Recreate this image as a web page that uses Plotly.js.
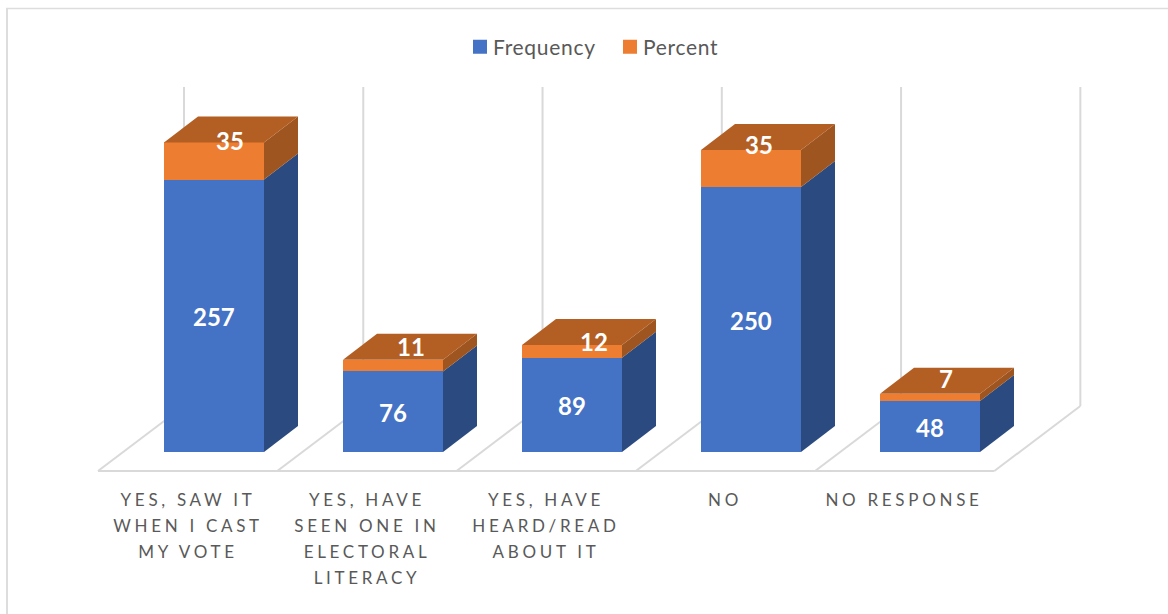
<!DOCTYPE html>
<html>
<head>
<meta charset="utf-8">
<script src="https://cdn.plot.ly/plotly-3.0.1.min.js"></script>
<style>
  html, body { margin: 0; padding: 0; background: #fff; }
  #chart { position: absolute; left: 0; top: 0; width: 1168px; height: 614px; }
  #chart .xtick text { letter-spacing: 3.7px; }
  #chart .legendtext { letter-spacing: 0.7px; }
</style>
</head>
<body>
<div id="chart"></div>
<script>
// Survey responses, stacked frequency and percent
const categories = [
  "YES, SAW IT<br>WHEN I CAST<br>MY VOTE",
  "YES, HAVE<br>SEEN ONE IN<br>ELECTORAL<br>LITERACY",
  "YES, HAVE<br>HEARD/READ<br>ABOUT IT",
  "NO",
  "NO RESPONSE"
];
const frequency = [257, 76, 89, 250, 48];
const percent = [35, 11, 12, 35, 7];

// Plot box in pixels and the scales it implies
const W = 1168, H = 614;
const box = { left: 60, right: 1130, top: 70, bottom: 488 };
const pxPerCat = 179, pxPerUnit = 1.06;
const firstBarPx = 214, baselinePx = 452;

// Oblique projection of the pseudo-3D look, converted to axis units
const barHalf = 50 / pxPerCat;
const depthX = 34 / pxPerCat, depthY = 26 / pxPerUnit;
const floorX = 86 / pxPerCat, floorY = 65 / pxPerUnit;
const floorFrontY = -19 / pxPerUnit;
const wallTop = (baselinePx - 87) / pxPerUnit;
const labelOffset = -26 / pxPerCat;
const floorLeft = -116 / pxPerCat;
const floorStep = 1.0015;

// Pixel nudges of the orange value labels, which sit on the column lids
const lidNudgeX = [16, 18, 22, 8, 16];
const lidNudgeY = [21, 19, 10, 24, 19];

const BLUE = "#4472C4", ORANGE = "#ED7D31";
const BLUE_SIDE = "#2B4A80", ORANGE_SIDE = "#9F551F", ORANGE_TOP = "#B35E23";
const GRID = "#D9D9D9", TEXT = "#595959", FRAME = "#DDDDDD";

const idx = categories.map((_, i) => i);
const polygon = (xs, ys, color) => ({
  type: "scatter", mode: "lines", x: xs.concat(xs[0]), y: ys.concat(ys[0]),
  fill: "toself", fillcolor: color, line: { width: 0, color: color },
  hoverinfo: "skip", showlegend: false, cliponaxis: false
});

const traces = [
  { type: "bar", name: "Frequency", x: idx, y: frequency, width: 2 * barHalf,
    marker: { color: BLUE }, hoverinfo: "y" },
  { type: "bar", name: "Percent", x: idx, y: percent, width: 2 * barHalf,
    marker: { color: ORANGE }, hoverinfo: "y" }
];

// Side and top faces for every stacked column
idx.forEach(i => {
  const r = i + barHalf, l = i - barHalf;
  const a = frequency[i], b = a + percent[i];
  traces.push(polygon([r, r + depthX, r + depthX, r], [0, depthY, a + depthY, a], BLUE_SIDE));
  traces.push(polygon([r, r + depthX, r + depthX, r], [a, a + depthY, b + depthY, b], ORANGE_SIDE));
  traces.push(polygon([l, l + depthX, r + depthX, r], [b, b + depthY, b + depthY, b], ORANGE_TOP));
});

// Back-wall gridlines and floor outline, behind the columns
const gridLine = (x0, y0, x1, y1) => ({
  type: "line", layer: "below", xref: "x", yref: "y", x0, y0, x1, y1,
  line: { color: GRID, width: 2 }
});
const shapes = [];
const nLines = categories.length + 1;
for (let k = 0; k < nLines; k++) {
  const front = floorLeft + k * floorStep;
  const back = front + floorX;
  shapes.push(gridLine(front, floorFrontY, back, floorFrontY + floorY));
  shapes.push(gridLine(back, floorFrontY + floorY, back, wallTop));
}
shapes.push(gridLine(floorLeft, floorFrontY, floorLeft + categories.length * floorStep, floorFrontY));

// Chart frame: only the top and left edges show
const paperX = px => (px - box.left) / (box.right - box.left);
const paperY = py => (box.bottom - py) / (box.bottom - box.top);
shapes.push({ type: "line", xref: "paper", yref: "paper", x0: paperX(7), x1: paperX(7),
  y0: paperY(8), y1: paperY(H), line: { color: FRAME, width: 2 } });
shapes.push({ type: "line", xref: "paper", yref: "paper", x0: paperX(6), x1: paperX(W),
  y0: paperY(8.6), y1: paperY(8.6), line: { color: FRAME, width: 1.5 } });

// Value labels: centred on the blue face, pushed back onto the lid for the orange one
const valueLabel = (x, y, value, xshift, yshift) => ({
  x, y, text: String(value), showarrow: false, xanchor: "center", yanchor: "middle",
  xshift, yshift, font: { family: "Lato, sans-serif", size: 24, color: "#fff", weight: 700 }
});
const annotations = [];
idx.forEach(i => {
  annotations.push(valueLabel(i, frequency[i] / 2, frequency[i], 0, -1));
  annotations.push(valueLabel(i, frequency[i] + percent[i] / 2, percent[i], lidNudgeX[i], lidNudgeY[i]));
});

const layout = {
  width: W, height: H,
  paper_bgcolor: "#fff", plot_bgcolor: "rgba(0,0,0,0)",
  barmode: "stack", bargap: 0,
  margin: { l: box.left, r: W - box.right, t: box.top, b: H - box.bottom, pad: 0 },
  xaxis: {
    range: [(box.left - firstBarPx) / pxPerCat, (box.right - firstBarPx) / pxPerCat],
    tickmode: "array", tickvals: idx.map(i => i + labelOffset), ticktext: categories,
    showgrid: false, zeroline: false, showline: false, ticks: "", tickangle: 0,
    tickfont: { family: "Lato, sans-serif", size: 17, color: TEXT }, automargin: false, fixedrange: true
  },
  yaxis: {
    range: [(baselinePx - box.bottom) / pxPerUnit, (baselinePx - box.top) / pxPerUnit],
    visible: false, fixedrange: true
  },
  showlegend: true,
  legend: {
    orientation: "h", x: paperX(453), xanchor: "left", y: paperY(47), yanchor: "middle",
    font: { family: "Lato, sans-serif", size: 21, color: TEXT },
    traceorder: "normal", entrywidth: 105, entrywidthmode: "pixels"
  },
  shapes, annotations
};

Plotly.newPlot("chart", traces, layout, { displayModeBar: false, staticPlot: true }).then(() => {
  // Open up the line spacing of the wrapped category labels
  document.querySelectorAll("#chart .xtick text tspan.line").forEach(t => {
    const em = parseFloat(t.getAttribute("dy"));
    if (em) t.setAttribute("dy", (em * 26 / (1.3 * 17)) + "em");
  });
  // Larger legend swatches, set closer to their text
  document.querySelectorAll("#chart .legendpoints path").forEach(p => {
    p.setAttribute("d", "M7,7H-7V-7H7Z");
    p.setAttribute("transform", "translate(27,0)");
  });
});
</script>
</body>
</html>
